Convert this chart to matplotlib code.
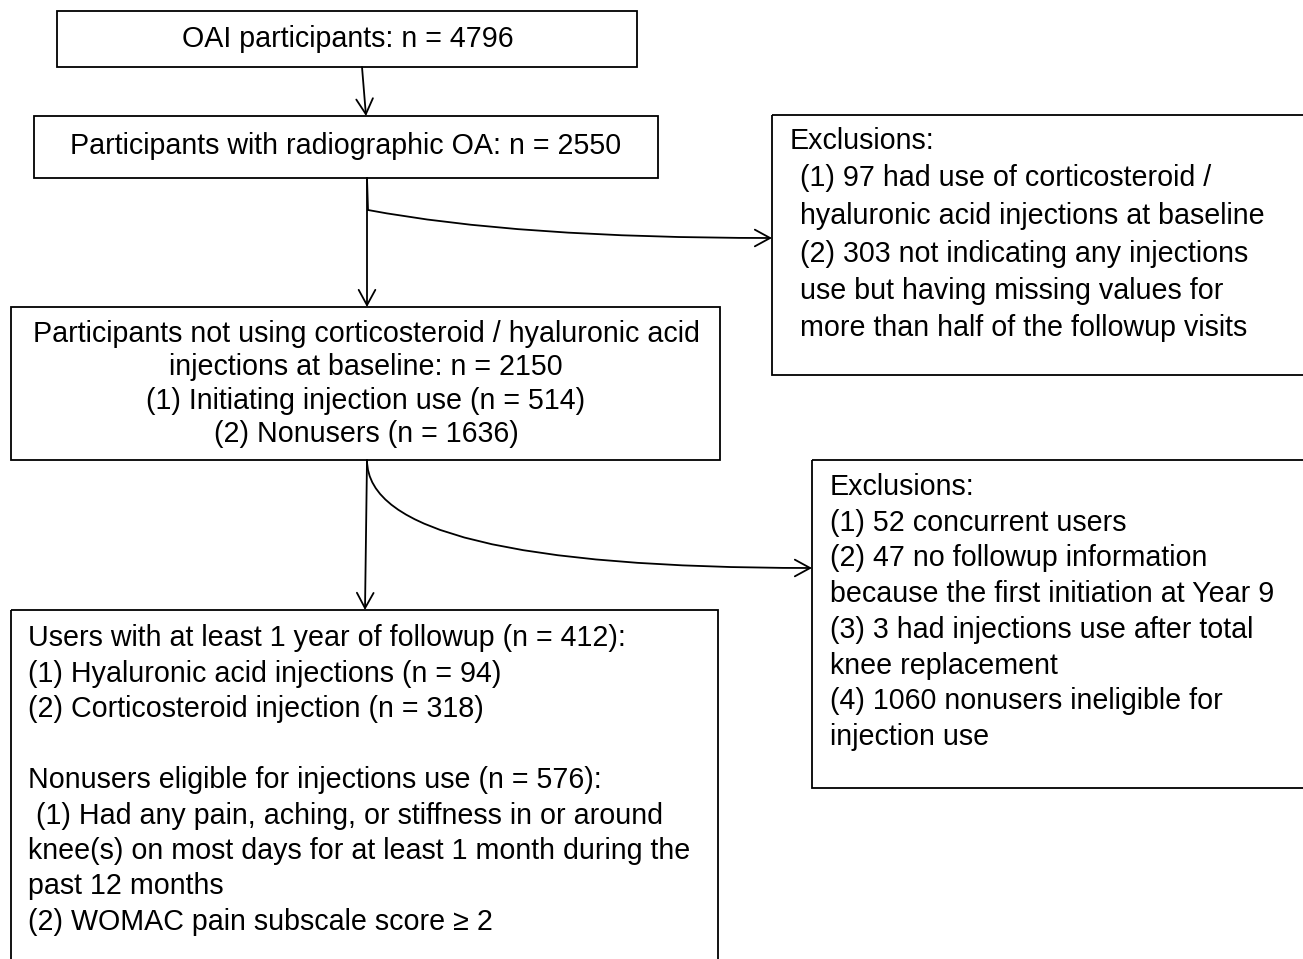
import matplotlib.pyplot as plt
from matplotlib.patches import Rectangle, FancyArrowPatch

#------------------------------------------------------------------------------
#   Flowchart text
#------------------------------------------------------------------------------
top_text = 'OAI participants: n = 4796'
oa_text = 'Participants with radiographic OA: n = 2550'

excl1_lines = [
    'Exclusions:',
    ' (1) 97 had use of corticosteroid /',
    ' hyaluronic acid injections at baseline',
    ' (2) 303 not indicating any injections',
    ' use but having missing values for',
    ' more than half of the followup visits',
]

base_lines = [
    'Participants not using corticosteroid / hyaluronic acid',
    'injections at baseline: n = 2150',
    '(1) Initiating injection use (n = 514)',
    '(2) Nonusers (n = 1636)',
]

excl2_lines = [
    'Exclusions:',
    '(1) 52 concurrent users',
    '(2) 47 no followup information',
    'because the first initiation at Year 9',
    '(3) 3 had injections use after total',
    'knee replacement',
    '(4) 1060 nonusers ineligible for',
    'injection use',
]

final_lines = [
    'Users with at least 1 year of followup (n = 412):',
    '(1) Hyaluronic acid injections (n = 94)',
    '(2) Corticosteroid injection (n = 318)',
    '',
    'Nonusers eligible for injections use (n = 576):',
    ' (1) Had any pain, aching, or stiffness in or around',
    'knee(s) on most days for at least 1 month during the',
    'past 12 months',
    '(2) WOMAC pain subscale score \u2265 2',
]

#------------------------------------------------------------------------------
#   Figure setup (pixel coordinates, y down)
#------------------------------------------------------------------------------
plt.rcParams['font.family'] = ['Liberation Sans', 'DejaVu Sans']
fs = 20.6
lw = 1.3

fig = plt.figure(figsize=(13.03, 9.59), dpi=100)
ax = fig.add_axes([0, 0, 1, 1])
ax.set_xlim(0, 1303)
ax.set_ylim(959, 0)
ax.axis('off')


def box(x0, y0, x1, y1):
    ax.add_patch(Rectangle((x0, y0), x1 - x0, y1 - y0, fill=False,
                           edgecolor='black', lw=lw))


def arrow(p0, p1, style='arc3,rad=0'):
    ax.add_patch(FancyArrowPatch(p0, p1, connectionstyle=style,
                                 arrowstyle='->,head_length=0.55,head_width=0.3',
                                 mutation_scale=20, color='black', lw=lw,
                                 shrinkA=0, shrinkB=0))


# boxes
box(57, 11, 637, 67)
box(34, 116, 658, 178)
box(11, 307, 720, 460)
box(11, 610, 718, 975)
# right boxes run off the right edge
box(772, 115, 1320, 375)
box(812, 460, 1320, 788)

# texts
ax.text(348, 39, top_text, fontsize=fs, ha='center', va='center')
ax.text(346, 146, oa_text, fontsize=fs, ha='center', va='center')

for i, line in enumerate(excl1_lines):
    x = 790 if i == 0 else 792
    ax.text(x, 141 + i * 37.5, line, fontsize=fs, ha='left', va='center')

for i, line in enumerate(base_lines):
    ax.text(366, 334 + i * 33.3, line, fontsize=fs, ha='center', va='center')

for i, line in enumerate(excl2_lines):
    ax.text(830, 487 + i * 35.7, line, fontsize=fs, ha='left', va='center')

for i, line in enumerate(final_lines):
    ax.text(28, 638 + i * 35.5, line, fontsize=fs, ha='left', va='center')

# arrows
arrow((362, 67), (366, 116))
arrow((367, 178), (367, 307))
ax.plot([367, 368], [178, 210], color='black', lw=lw)
arrow((368, 210), (772, 238), 'angle3,angleA=-10.7,angleB=0')
arrow((367, 460), (365, 610))
arrow((367, 460), (812, 568), 'angle3,angleA=-90,angleB=0')

fig.savefig('out.png', dpi=100, facecolor='white')
